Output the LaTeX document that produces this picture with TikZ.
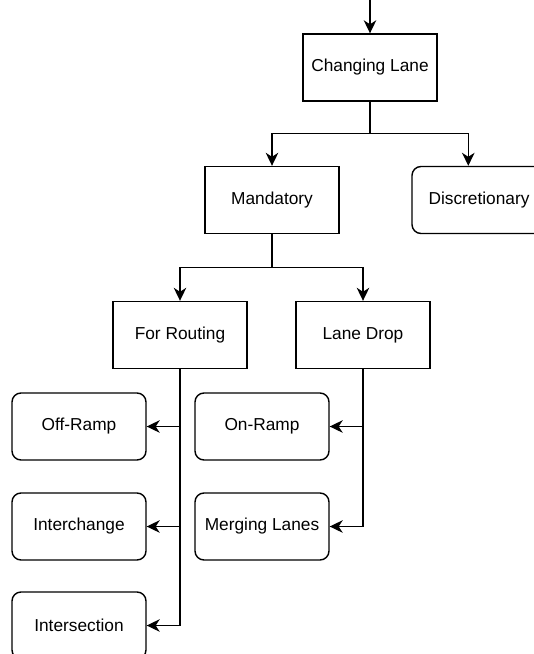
\documentclass[tikz,border=0pt]{standalone}
\usepackage{fontspec}
\setmainfont{Liberation Sans}
\usetikzlibrary{arrows.meta,calc}
\begin{document}
\begin{tikzpicture}[x=1pt,y=-1pt,
  box/.style={draw=black,line width=1.4pt,minimum width=134pt,minimum height=67pt,
    inner sep=0pt,font=\fontsize{17.3}{20}\selectfont,text=black},
  rbox/.style={box,rounded corners=9pt},
  arr/.style={draw=black,line width=1.4pt,-{Stealth[length=13pt,width=12.5pt,inset=4pt]}}]
\useasboundingbox (0,0) rectangle (534,654);
\clip (0,0) rectangle (534,654);
\node[box]  (CL)   at (370,67.5)  {Changing Lane};
\node[box]  (Mand) at (272,200)   {Mandatory};
\node[rbox] (Disc) at (479,200)   {Discretionary};
\node[box]  (FR)   at (180,335)   {For Routing};
\node[box]  (LD)   at (363,335)   {Lane Drop};
\node[rbox] (OR)   at (79,426.5)  {Off-Ramp};
\node[rbox] (IC)   at (79,526.5)  {Interchange};
\node[rbox] (IS)   at (79,625.5)  {Intersection};
\node[rbox] (ONR)  at (262,426.5) {On-Ramp};
\node[rbox] (ML)   at (262,526.5) {Merging Lanes};
\coordinate (top) at (370,0);
\coordinate (dtop) at ($(Disc.north west)+(57,0)$);
\draw[arr] (top) -- (CL.north);
\draw[arr] (CL.south) |- ($(CL.south)!0.5!(Mand.north)$) -| (Mand.north);
\draw[arr] (CL.south) |- ($(CL.south)!0.5!(dtop)$) -| (dtop);
\draw[arr] (Mand.south) |- ($(Mand.south)!0.5!(FR.north)$) -| (FR.north);
\draw[arr] (Mand.south) |- ($(Mand.south)!0.5!(LD.north)$) -| (LD.north);
\draw[arr] (FR.south) |- (OR.east);
\draw[arr] (FR.south) |- (IC.east);
\draw[arr] (FR.south) |- (IS.east);
\draw[arr] (LD.south) |- (ONR.east);
\draw[arr] (LD.south) |- (ML.east);
\end{tikzpicture}
\end{document}
